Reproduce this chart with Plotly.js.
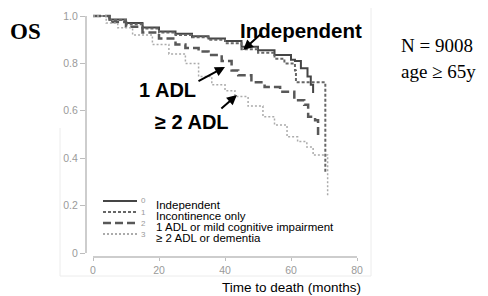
<!DOCTYPE html>
<html>
<head>
<meta charset="utf-8">
<script src="https://cdn.plot.ly/plotly-3.0.1.min.js"></script>
<style>html,body{margin:0;padding:0;background:#fff;}#chart{width:488px;height:296px;}</style>
</head>
<body>
<div id="chart"></div>
<script>
// ---- data ----
const groupCodes = ["0", "1", "2", "3"];
const groupNames = ["Independent", "Incontinence only", "1 ADL or mild cognitive impairment", "\u2265 2 ADL or dementia"];

const months0 = [0, 5, 10, 15, 20, 25, 30, 35, 40, 45, 50, 55, 60, 61.2, 63, 65, 66, 66.7];
const surv0   = [1.0, 0.985, 0.97, 0.952, 0.935, 0.925, 0.915, 0.905, 0.895, 0.87, 0.855, 0.835, 0.815, 0.81, 0.78, 0.745, 0.71, 0.675];

const months1 = [0, 5, 10, 15, 20, 25, 30, 35, 40, 45, 50, 55, 58, 61.2, 61.5, 70.3, 70.4];
const surv1   = [1.0, 0.983, 0.965, 0.947, 0.93, 0.92, 0.91, 0.90, 0.885, 0.86, 0.845, 0.82, 0.80, 0.77, 0.72, 0.72, 0.34];

const months2 = [0, 5, 10, 15, 20, 25, 28, 32, 35, 39, 42, 44, 48, 52, 56.7, 61, 64, 65.2, 67.3, 68.2];
const surv2   = [1.0, 0.975, 0.955, 0.93, 0.905, 0.88, 0.865, 0.85, 0.835, 0.81, 0.77, 0.75, 0.72, 0.70, 0.68, 0.645, 0.625, 0.575, 0.56, 0.485];

const months3 = [0, 4, 7.5, 12, 18, 23, 28, 32, 36, 40, 43, 47, 51.5, 55, 58.8, 62, 64.8, 66.7, 71, 71.1];
const surv3   = [1.0, 0.97, 0.95, 0.92, 0.88, 0.84, 0.80, 0.745, 0.71, 0.685, 0.66, 0.62, 0.575, 0.54, 0.49, 0.47, 0.447, 0.413, 0.413, 0.236];

const xTicks = [0, 20, 40, 60, 80];
const yTicks = [0, 0.2, 0.4, 0.6, 0.8, 1.0];
const yTickText = ["0", "0.2", "0.4", "0.6", "0.8", "1.0"];

// ---- styles ----
const lineStyles = [
  {color: "#454545", width: 2, dash: "solid"},
  {color: "#666666", width: 2, dash: "3px,2px"},
  {color: "#585858", width: 2.5, dash: "8px,4px"},
  {color: "#ababab", width: 1.5, dash: "2px,2px"}
];

const monthsAll = [months0, months1, months2, months3];
const survAll = [surv0, surv1, surv2, surv3];

const traces = monthsAll.map((m, i) => ({
  x: m, y: survAll[i], type: "scatter", mode: "lines",
  line: Object.assign({shape: "hv"}, lineStyles[i]),
  name: groupNames[i], showlegend: false, hoverinfo: "skip"
}));

// pixel -> paper helpers (plot area: left 86, right 360, top 14, bottom 257)
const L = 86, R = 360, T = 14, B = 257;
const px = v => (v - L) / (R - L);
const py = v => (B - v) / (B - T);

const shapes = [
  {type: "line", xref: "x", yref: "paper", x0: 0, x1: 80, y0: 0, y1: 0, line: {color: "#bdbdbd", width: 1.5}},
  {type: "line", xref: "paper", yref: "y", x0: 0, x1: 0, y0: 0, y1: 1, line: {color: "#bdbdbd", width: 1.5}},
  {type: "line", xref: "paper", yref: "paper", x0: px(371), x1: px(371), y0: py(8), y1: py(276), line: {color: "#ececec", width: 1}},
  {type: "line", xref: "paper", yref: "paper", x0: px(60), x1: px(371), y0: py(276), y1: py(276), line: {color: "#ececec", width: 1}},
  {type: "line", xref: "paper", yref: "paper", x0: px(60), x1: px(60), y0: py(128), y1: py(276), line: {color: "#ececec", width: 1}}
];

const sampleY = [201, 212, 223, 234];
sampleY.forEach((yy, i) => {
  shapes.push({type: "line", xref: "paper", yref: "paper", x0: px(103), x1: px(137), y0: py(yy), y1: py(yy),
    line: {color: lineStyles[i].color, width: lineStyles[i].width === 2.5 ? 2.5 : 2, dash: lineStyles[i].dash}});
});

const textY = [205, 216, 227, 238];
const annotations = [];
groupCodes.forEach((c, i) => {
  annotations.push({xref: "paper", yref: "paper", x: px(143), y: py(sampleY[i]), text: c, showarrow: false,
    xanchor: "center", yanchor: "middle", font: {family: "Liberation Sans, Arial", size: 8, color: "#9a9a9a"}});
  annotations.push({xref: "paper", yref: "paper", x: px(155), y: py(textY[i]), text: groupNames[i], showarrow: false,
    xanchor: "left", yanchor: "middle", borderpad: 0, font: {family: "Liberation Sans, Arial", size: 11.5, color: "#000"}});
});

const bold = {family: "Liberation Sans, Arial", size: 20, color: "#000"};
annotations.push(
  {xref: "paper", yref: "paper", x: px(301), y: py(30), text: "<b>Independent</b>", showarrow: false, xanchor: "center", yanchor: "middle", font: {family: "Liberation Sans, Arial", size: 20.5, color: "#000"}},
  {xref: "paper", yref: "paper", x: px(167), y: py(90), text: "<b>1 ADL</b>", showarrow: false, xanchor: "center", yanchor: "middle", font: bold},
  {xref: "paper", yref: "paper", x: px(192), y: py(122), text: "<b>\u2265 2 ADL</b>", showarrow: false, xanchor: "center", yanchor: "middle", font: bold},
  {xref: "x", yref: "y", x: 45.5, y: 0.857, ax: 20, ay: -18, text: "", showarrow: true, arrowhead: 2, arrowsize: 1, arrowwidth: 2, arrowcolor: "#000"},
  {xref: "x", yref: "y", x: 40, y: 0.785, ax: -28, ay: 15, text: "", showarrow: true, arrowhead: 2, arrowsize: 1, arrowwidth: 2, arrowcolor: "#000"},
  {xref: "x", yref: "y", x: 43.6, y: 0.667, ax: -17, ay: 15, text: "", showarrow: true, arrowhead: 2, arrowsize: 1, arrowwidth: 2, arrowcolor: "#000"},
  {xref: "paper", yref: "paper", x: px(8), y: py(31), text: "<b>OS</b>", showarrow: false, xanchor: "left", yanchor: "middle",
    font: {family: "Liberation Serif, Times New Roman", size: 23, color: "#000"}},
  {xref: "paper", yref: "paper", x: px(399), y: py(46), text: "N = 9008", showarrow: false, xanchor: "left", yanchor: "middle",
    font: {family: "Liberation Serif, Times New Roman", size: 19, color: "#000"}},
  {xref: "paper", yref: "paper", x: px(399), y: py(71), text: "age \u2265 65y", showarrow: false, xanchor: "left", yanchor: "middle",
    font: {family: "Liberation Serif, Times New Roman", size: 19, color: "#000"}},
  {xref: "paper", yref: "paper", x: px(291), y: py(287), text: "Time to death (months)", showarrow: false, xanchor: "center", yanchor: "middle",
    font: {family: "Liberation Sans, Arial", size: 13.5, color: "#000"}}
);

const layout = {
  width: 488, height: 296,
  margin: {l: L, r: 488 - R, t: T, b: 296 - B, pad: 0},
  paper_bgcolor: "#fff", plot_bgcolor: "#fff",
  showlegend: false,
  xaxis: {range: [-7 / 3.3, 80 + 3 / 3.3], tickvals: xTicks, ticktext: xTicks.map(String),
    showgrid: false, zeroline: false, showline: false, ticks: "outside", ticklen: 3, tickcolor: "#bdbdbd",
    tickfont: {family: "Liberation Sans, Arial", size: 10.5, color: "#9a9a9a"}, fixedrange: true},
  yaxis: {range: [-4 / 237, 1 + 2 / 237], tickvals: yTicks, ticktext: yTickText,
    showgrid: false, zeroline: false, showline: false, ticks: "outside", ticklen: 5, tickcolor: "#bdbdbd",
    tickfont: {family: "Liberation Sans, Arial", size: 10.5, color: "#9a9a9a"}, fixedrange: true},
  shapes: shapes,
  annotations: annotations
};

Plotly.newPlot("chart", traces, layout, {staticPlot: true, displayModeBar: false});
</script>
</body>
</html>
